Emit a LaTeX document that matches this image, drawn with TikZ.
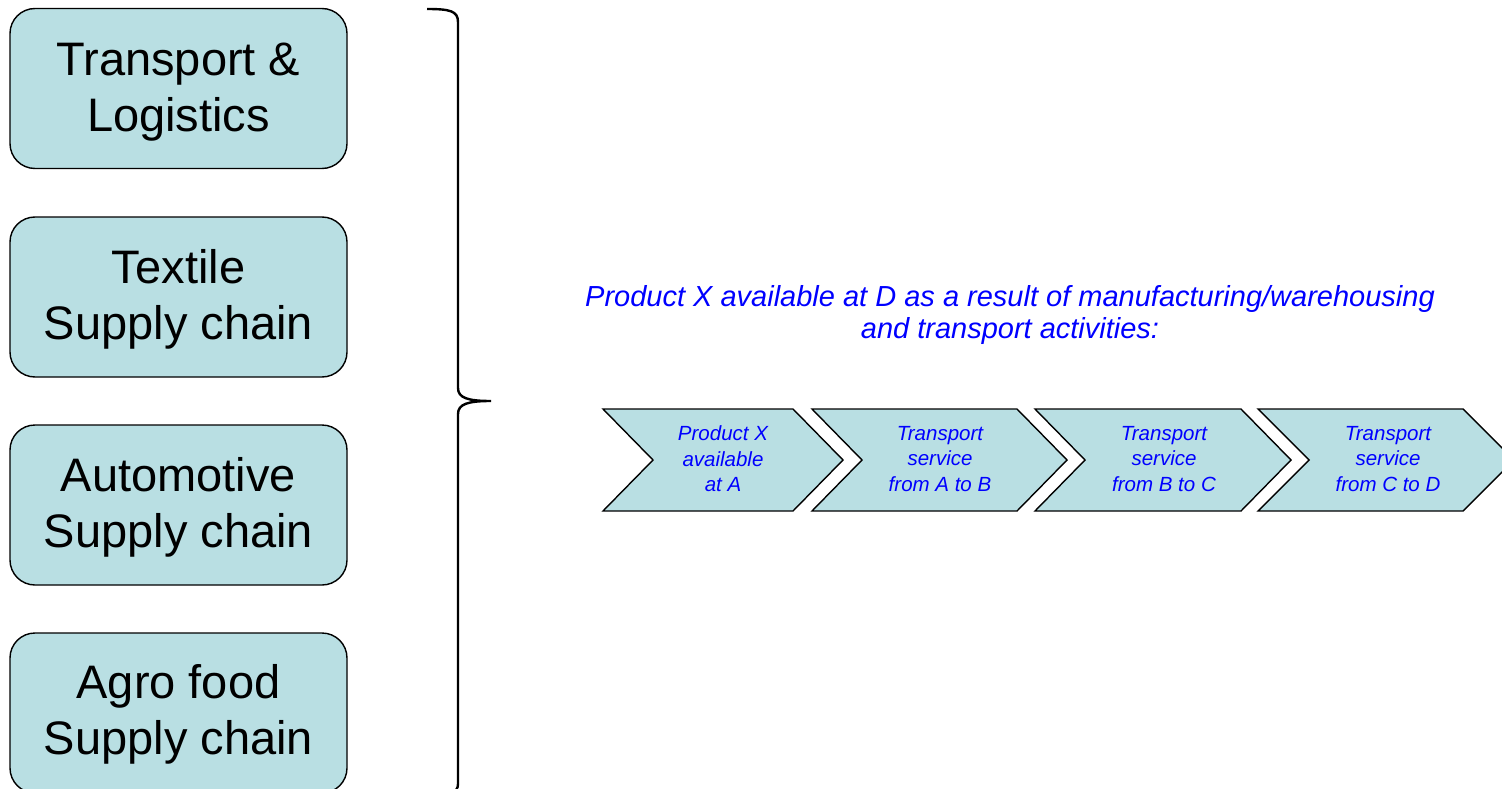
\documentclass[tikz,border=0pt]{standalone}
\usepackage{fontspec}
\setmainfont{Liberation Sans}
\begin{document}
\begin{tikzpicture}[x=1pt,y=-1pt,
  sector/.style={draw=black, line width=1.4pt, fill=cyanpale, rounded corners=25pt,
    minimum width=337pt, minimum height=160pt, inner sep=0pt},
  sectortext/.style={align=center, inner sep=0pt,
    font=\fontsize{47}{56}\selectfont},
  arrowshape/.style={draw=black, line width=1.4pt, fill=cyanpale, line join=miter},
  steptext/.style={text=blue, align=center, inner sep=0pt,
    font=\itshape\fontsize{20.5}{25.5}\selectfont},
  headline/.style={text=blue, align=center, inner sep=0pt,
    font=\itshape\fontsize{29}{32}\selectfont},
  bracestyle/.style={draw=black, line width=2.4pt}]
\definecolor{cyanpale}{RGB}{185,223,227}
\useasboundingbox (0,0) rectangle (1502,789);
\clip (0,0) rectangle (1502,789);

% industry sectors on the left
\node[sector] (logistics) at (178.5,88.5) {};
\node[sector] (textile)   at (178.5,297) {};
\node[sector] (auto)      at (178.5,505) {};
\node[sector] (agro)      at (178.5,713) {};
\node[sectortext] (logisticsT) at ([yshift=-4]logistics.center) {Transport \&\\Logistics};
\node[sectortext] (textileT)   at ([yshift=-2]textile.center)   {Textile\\Supply chain};
\node[sectortext] (autoT)      at ([yshift=-2]auto.center)      {Automotive\\Supply chain};
\node[sectortext] (agroT)      at ([yshift=-1]agro.center)      {Agro food\\Supply chain};

% right-hand brace grouping the sectors
\draw[bracestyle] (427,9) .. controls (450,9) and (458,11) .. (458,22)
  -- (458,388) .. controls (458,398) and (468,401) .. (491,401)
  .. controls (468,401) and (458,404) .. (458,414)
  -- (458,784) .. controls (458,793) and (450,795) .. (427,795);

% heading above the process chain
\node[headline] (heading) at (1010,315)
  {Product X available at D as a result of manufacturing/warehousing\\and transport activities:};

% process chain of chevrons
\draw[arrowshape] (603,409) -- (793,409) -- (843,460) -- (793,511) -- (603,511) -- (653,460) -- cycle;
\draw[arrowshape] (812,409) -- (1017,409) -- (1067,460) -- (1017,511) -- (812,511) -- (862,460) -- cycle;
\draw[arrowshape] (1035,409) -- (1241,409) -- (1291,460) -- (1241,511) -- (1035,511) -- (1085,460) -- cycle;
\draw[arrowshape] (1258,409) -- (1463,409) -- (1514,460) -- (1463,511) -- (1258,511) -- (1309,460) -- cycle;

\node[steptext] (stepA)  at (723,459)  {Product X\\available\\at A};
\node[steptext] (stepAB) at (940,459)  {Transport\\service\\from A to B};
\node[steptext] (stepBC) at (1164,459) {Transport\\service\\from B to C};
\node[steptext] (stepCD) at (1388,459) {Transport\\service\\from C to D};
\end{tikzpicture}
\end{document}
